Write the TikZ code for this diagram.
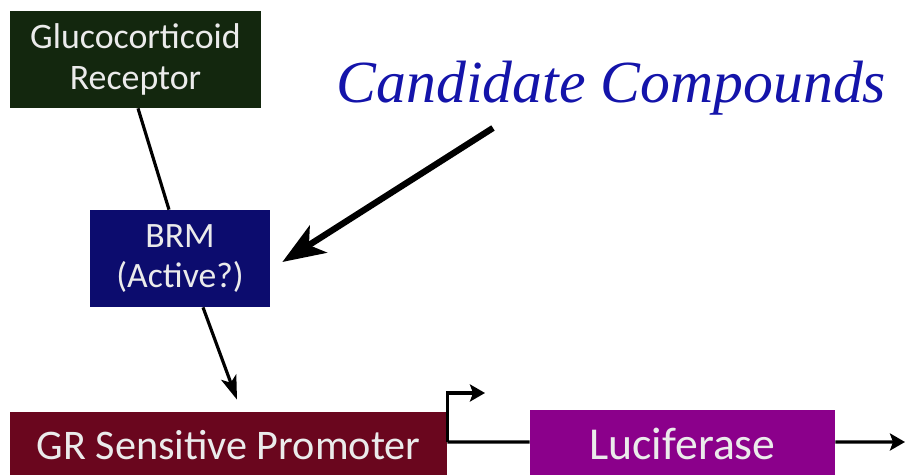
\documentclass[tikz,border=0pt]{standalone}
\usepackage{fontspec}
\setmainfont{Carlito}
\newfontfamily\candfont{Liberation Serif}
\usepackage{xcolor}
\usepackage{tikz}
\usetikzlibrary{positioning,arrows.meta}

\definecolor{grgreen}{HTML}{13270E}
\definecolor{brmblue}{HTML}{0C0C6E}
\definecolor{promred}{HTML}{6A061E}
\definecolor{lucpurple}{HTML}{8B008B}
\definecolor{candblue}{HTML}{1414AA}

\begin{document}
\begin{tikzpicture}[
  block/.style={inner sep=0pt, text=white!92!black, align=center},
  link/.style={line width=1.8pt},
  arr/.style={-{Stealth[length=0.48cm, width=0.32cm, inset=0.12cm]}, line width=1.8pt},
  smallarr/.style={-{Stealth[length=0.3cm, width=0.34cm, inset=0.06cm]}, line width=1.8pt},
  bigarr/.style={-{Stealth[length=0.85cm, width=0.64cm, inset=0.22cm]}, line width=3.6pt},
]
\useasboundingbox (0,0) rectangle (18.18,9.5);
\node[block, fill=grgreen, minimum width=5.02cm, minimum height=1.94cm, font=\fontsize{20.4}{23.5}\selectfont] (gr) at (2.71, 8.31) {Glucocorticoid\\Receptor};
\node[block, fill=brmblue, minimum width=3.6cm, minimum height=1.94cm, font=\fontsize{20.3}{23}\selectfont] (brm) at (3.60, 4.33) {BRM\\(Active?)};
\node[block, fill=promred, minimum width=8.74cm, minimum height=1.32cm, font=\fontsize{24}{28}\selectfont] (prom) at (4.57, 0.60) {GR Sensitive Promoter};
\node[block, fill=lucpurple, minimum width=6.1cm, minimum height=1.36cm, font=\fontsize{26}{30}\selectfont] (luc) at (13.65, 0.62) {Luciferase};
\node[anchor=base, inner sep=0pt, text=candblue, font=\candfont\itshape\fontsize{34}{40}\selectfont] (cand) at (12.23, 7.44) {Candidate Compounds};
\coordinate (tss) at (9.70, 1.64);
\coordinate (out) at (18.10, 0.66);
\draw[link] ([xshift=0.05cm]gr.south) -- ([xshift=-0.22cm]brm.north);
\draw[arr] ([xshift=0.46cm]brm.south) -- ([xshift=0.17cm, yshift=0.24cm]prom.north);
\draw[bigarr] ([xshift=-2.37cm, yshift=-0.5cm]cand.base) -- ([xshift=0.24cm, yshift=-0.07cm]brm.east);
\draw[smallarr] ([yshift=0.06cm]prom.east) |- (tss);
\draw[link] ([yshift=0.06cm]prom.east) -- ([yshift=0.04cm]luc.west);
\draw[smallarr] ([yshift=0.04cm]luc.east) -- (out);
\end{tikzpicture}
\end{document}
